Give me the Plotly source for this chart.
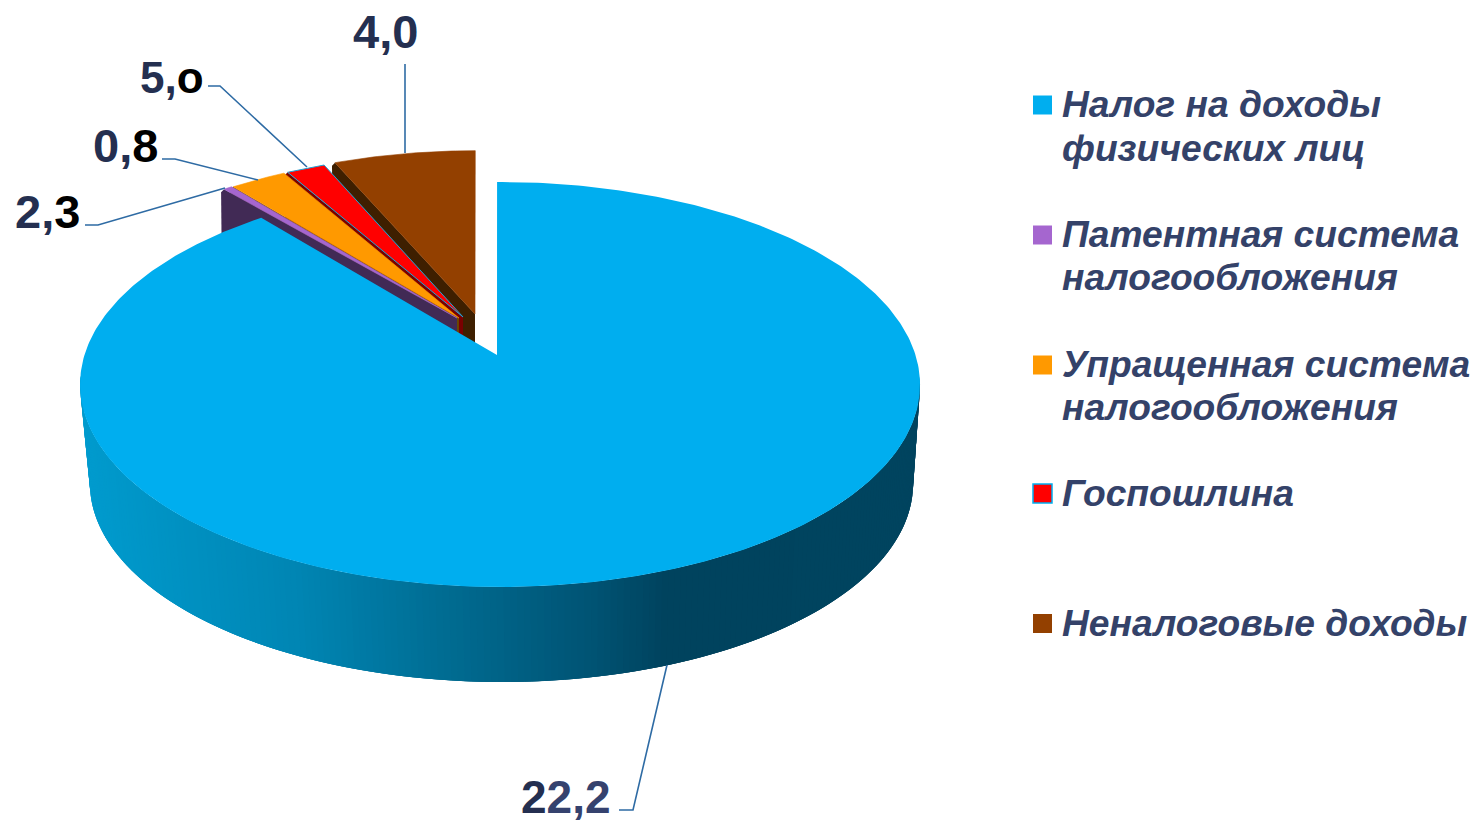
import numpy as np
import plotly.graph_objects as go

# ---- data ----
categories = ["Налог на доходы физических лиц", "Патентная система налогообложения",
              "Упращенная система налогообложения", "Госпошлина", "Неналоговые доходы"]
# share of the drawn pie, percent
slice_shares = [88.87, 0.39, 2.56, 1.75, 6.43]
# printed labels
value_labels = ["22,2", "2,3", "0,8", "5,o", "4,0"]
legend_lines = [["Налог на доходы", "физических лиц"],
                ["Патентная система", "налогообложения"],
                ["Упращенная система", "налогообложения"],
                ["Госпошлина"],
                ["Неналоговые доходы"]]
top_colors = ["#00AEEF", "#A566CF", "#FF9900", "#FF0000", "#934000"]
side_colors = ["#00455F", "#412A55", "#6B4700", "#7A0000", "#3E1F00"]
# exploded offset of each slice, in pie radii
offsets = [(0.0, 0.0), (-0.099, 0.192), (-0.0941, 0.1919), (-0.0842, 0.1973), (-0.0546, 0.2133)]
START_ANGLE = -0.4
BLUE_EDGE_EXTRA = 0.8

# ---- pie projection (perspective tilted disc, pixel-sized axes) ----
X0, Y0, A, B, K = 497.0, 355.0, 415.5, 198.2, 0.1457
BLUE_SHIFT = 0.0072
SIDE_SCALE, SIDE_Y0, SIDE_DX = 0.98, 454.6, 1.5


def project(u, v, bottom=False):
    u, v = np.asarray(u, float), np.asarray(v, float)
    d = 1 + K * v
    if bottom:
        return X0 + SIDE_DX + SIDE_SCALE * A * u / d, SIDE_Y0 - SIDE_SCALE * B * v / d
    return X0 + A * u / d, Y0 - B * v / d


def rim(a0, a1, off, n=160):
    t = np.radians(np.linspace(a0, a1, n))
    return off[0] + np.sin(t), off[1] + np.cos(t)


def mix(stops, x):
    xs = [s[0] for s in stops]
    return "rgb(%d,%d,%d)" % tuple(np.interp(x, xs, [s[1][i] for s in stops]) for i in range(3))


fig = go.Figure()


def poly(x, y, color, line=None, lw=0.0):
    fig.add_trace(go.Scatter(x=list(x), y=list(y), mode="lines", fill="toself", fillcolor=color,
                             line=dict(color=line or color, width=lw), hoverinfo="skip", showlegend=False))


edges = START_ANGLE + np.cumsum([0] + slice_shares) * 3.6

# small exploded slices, rear to front
for i in [4, 3, 2, 1]:
    a0, a1 = edges[i], edges[i + 1]
    off = offsets[i]
    # left cut face
    eu, ev = off[0] + np.sin(np.radians(a0)), off[1] + np.cos(np.radians(a0))
    tx, ty = project([off[0], eu], [off[1], ev])
    poly([tx[0], tx[1], tx[1] - 3, tx[1] - 2, tx[0]], [ty[0], ty[1], ty[1] + 3, ty[1] + 100, ty[0] + 100], side_colors[i])
    u, v = rim(a0, a1, off, 30)
    x, y = project(np.r_[off[0], u], np.r_[off[1], v])
    poly(np.r_[x, x[0]], np.r_[y, y[0]], top_colors[i], line="#1FA5D8" if i == 3 else None, lw=1 if i == 3 else 0.6)

# blue side wall with its left-to-right shading: overlapping strips painted in order
grad = [(85, (0, 156, 207)), (300, (0, 134, 180)), (450, (0, 108, 146)), (600, (0, 82, 114)),
        (665, (0, 67, 94)), (920, (0, 69, 96))]
t = np.radians(np.linspace(edges[0], edges[1] + BLUE_EDGE_EXTRA, 400))
uu, vv = BLUE_SHIFT + np.sin(t), np.cos(t)
tx, ty = project(uu, vv)
bx, by = project(uu, vv, bottom=True)
idx = np.where(vv <= -0.1)[0]
for j in idx[:-1]:
    k = min(j + 3, idx[-1])
    xm = 0.5 * (bx[j] + bx[j + 1])
    sx = np.r_[tx[j:k + 1], bx[j:k + 1][::-1]]
    sy = np.r_[ty[j:k + 1], by[j:k + 1][::-1]]
    poly(sx, sy, mix(grad, xm))

# blue top face
poly(np.r_[X0, tx, X0], np.r_[Y0, ty, Y0], top_colors[0])

# leader lines
leaders = [[(619, 810), (633, 810), (667, 665)],
           [(85, 225), (98, 225), (225, 188)],
           [(162, 159), (175, 159), (258, 180)],
           [(208, 86), (220, 86), (307, 167)],
           [(405, 64), (405, 153)]]
for pts in leaders:
    fig.add_trace(go.Scatter(x=[p[0] for p in pts], y=[p[1] for p in pts], mode="lines",
                             line=dict(color="#2E6BA4", width=1.6), hoverinfo="skip", showlegend=False))

# value labels
NAVY, NAVY2, BLACK = "#242F50", "#35426E", "#000000"
label_pos = [(566, 797, 46), (47.5, 211, 47), (125, 145, 47), (172, 77, 44), (385.5, 31, 47)]
label_split = [(1, NAVY, NAVY2), (2, NAVY, BLACK), (2, NAVY, BLACK), (2, NAVY, BLACK), (3, NAVY, NAVY)]
annotations = []
for txt, (px, py, fs), (n, c1, c2) in zip(value_labels, label_pos, label_split):
    html = f'<span style="color:{c1}">{txt[:n]}</span><span style="color:{c2}">{txt[n:]}</span>'
    annotations.append(dict(x=px, y=py, xref="x", yref="y", text=html, showarrow=False, xanchor="center",
                            yanchor="middle", font=dict(family="Liberation Sans", size=fs, weight="bold")))

# legend, drawn as keys and text
legend_y = [[105, 149], [235, 278], [365, 408], [493.5], [623.5]]
for i, (lines, ys) in enumerate(zip(legend_lines, legend_y)):
    fig.add_trace(go.Scatter(x=[1042.5], y=[ys[0]], mode="markers",
                             marker=dict(symbol="square", size=19, color=top_colors[i],
                                         line=dict(color="#00AEEF" if i == 3 else top_colors[i], width=1.5 if i == 3 else 0)),
                             name=categories[i], hoverinfo="name", showlegend=False))
    for line, ly in zip(lines, ys):
        annotations.append(dict(x=1059.5, y=ly - 1, xref="x", yref="y", text=f"<b><i>{line}</i></b>", showarrow=False,
                                xanchor="left", yanchor="middle",
                                font=dict(family="Liberation Sans", size=37.2, color="#344269")))

fig.update_layout(width=1474, height=823, margin=dict(l=0, r=0, t=0, b=0), paper_bgcolor="white",
                  plot_bgcolor="white", showlegend=False, annotations=annotations,
                  xaxis=dict(range=[0, 1474], visible=False, fixedrange=True),
                  yaxis=dict(range=[823, 0], visible=False, fixedrange=True))
fig.write_html("out.html", config=dict(displayModeBar=False),
               post_script="document.body.style.margin='0';document.documentElement.style.overflow='hidden';")
